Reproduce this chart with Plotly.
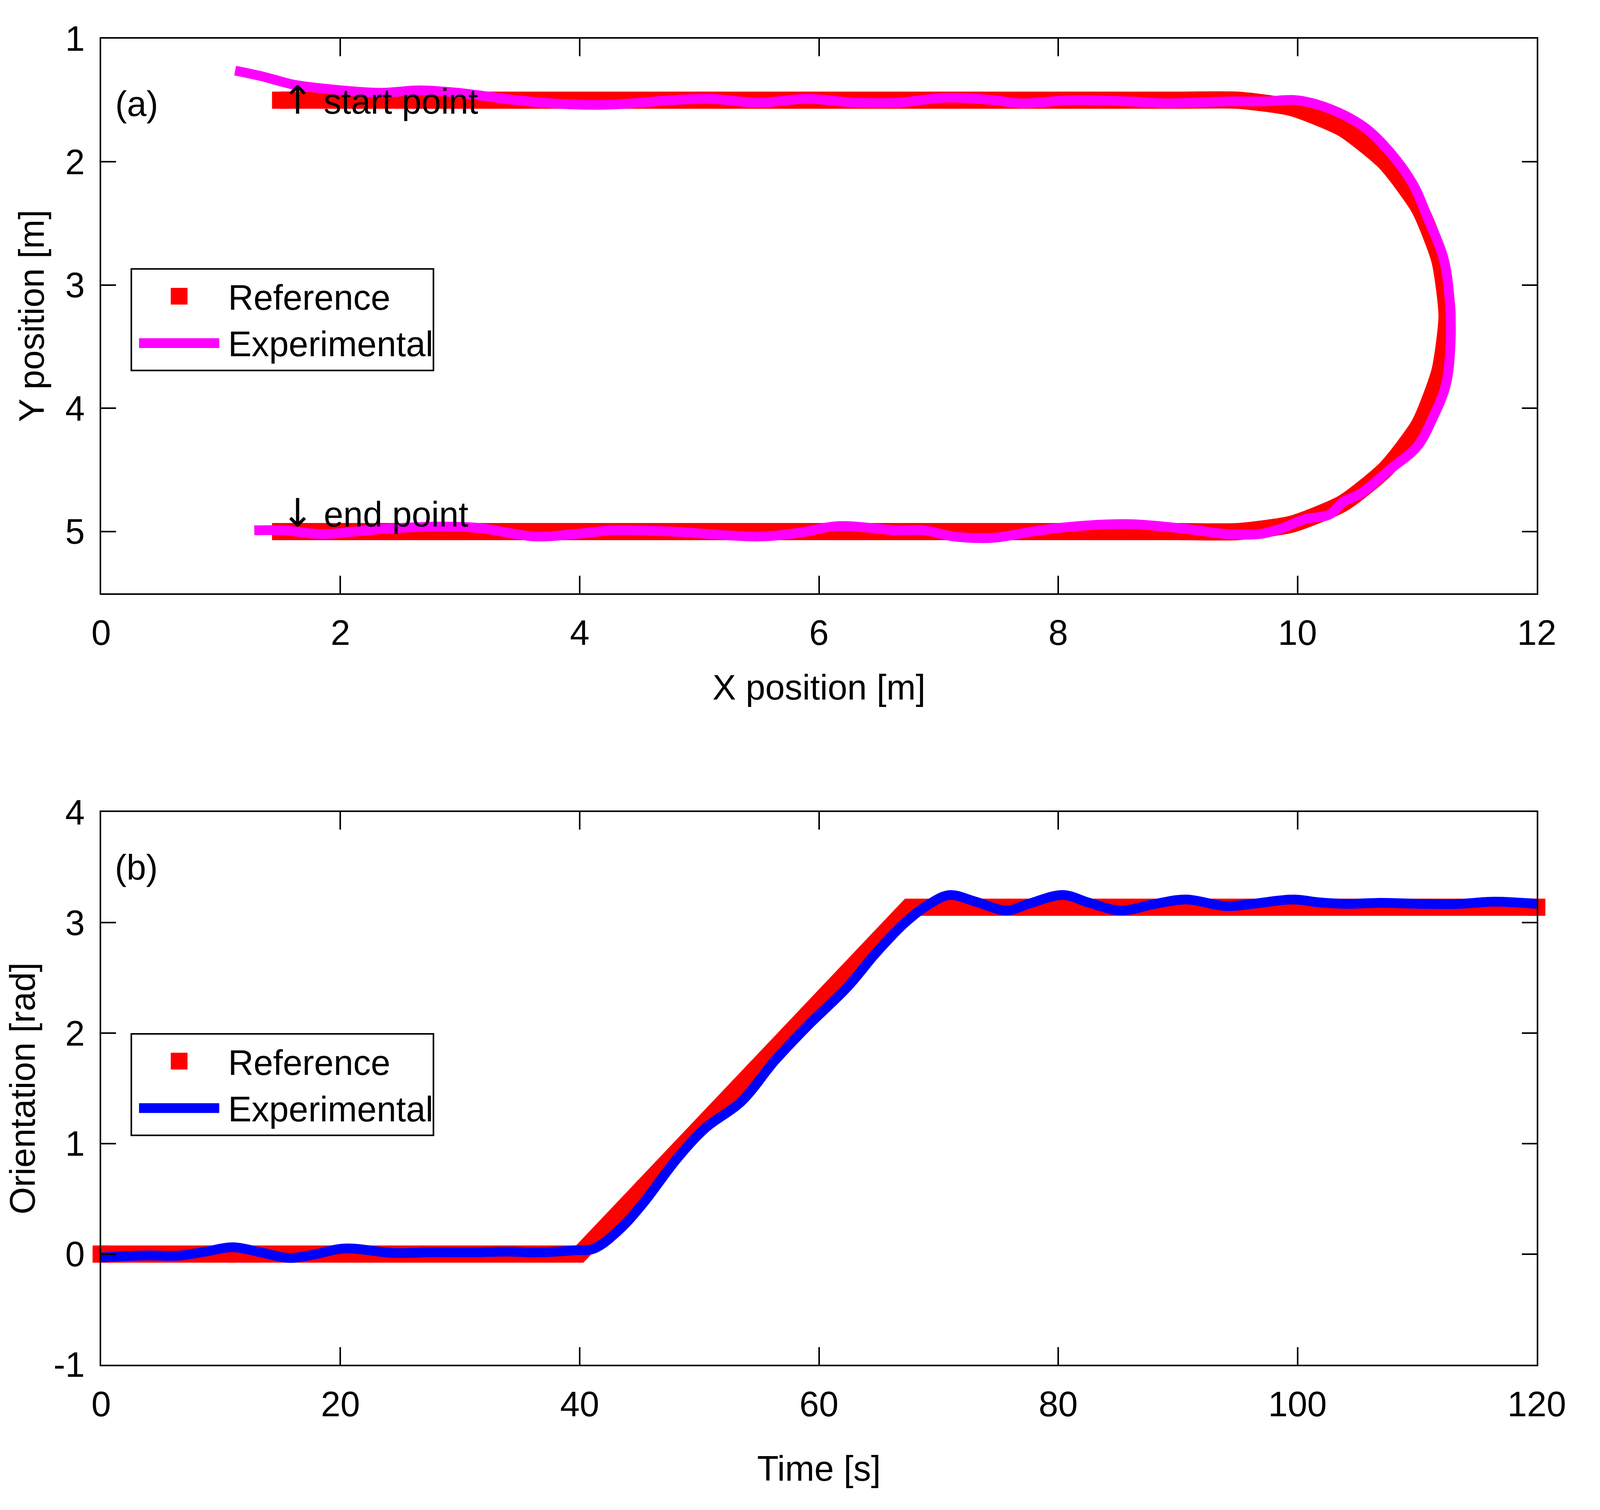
import plotly.graph_objects as go

# the browser window is 4096 px wide, so the figure is laid out in fractions of the
# original 4844x3866 picture and drawn to fill the window
REF_W, REF_H = 4844, 3866
W, H = 4080, 3850
FONT = "Arial, Liberation Sans, sans-serif"
FS = 90

# (a) trajectory in the plane
ref_x = [1.5, 9.0, 9.5, 9.95, 10.38, 10.74, 11.02, 11.19, 11.25, 11.19, 11.02, 10.74,
         10.38, 9.95, 9.5, 9.0, 1.5]
ref_y = [1.5, 1.5, 1.5, 1.56, 1.73, 2.01, 2.38, 2.80, 3.25, 3.70, 4.13, 4.49,
         4.77, 4.94, 5.0, 5.0, 5.0]

exp_x = [1.12, 1.36, 1.59, 1.85, 2.33, 2.66, 2.98, 3.47, 3.96, 4.28, 4.77, 5.10, 5.49,
         5.90, 6.32, 6.65, 7.07, 7.46, 7.69, 8.11, 8.60, 8.92, 9.41, 9.73, 9.99, 10.27,
         10.56, 10.78, 10.97, 11.09, 11.22, 11.27, 11.28, 11.24, 11.13, 11.00, 10.78,
         10.53, 10.38, 10.27, 10.06, 9.85, 9.68, 9.41, 9.08, 8.60, 8.11, 7.78, 7.46,
         7.13, 6.88, 6.65, 6.16, 5.83, 5.49, 4.77, 4.28, 3.96, 3.63, 3.15, 2.82, 2.33,
         1.85, 1.52, 1.28]
exp_y = [1.26, 1.31, 1.37, 1.405, 1.44, 1.42, 1.44, 1.50, 1.535, 1.535, 1.50, 1.49, 1.52,
         1.49, 1.52, 1.52, 1.48, 1.50, 1.525, 1.50, 1.51, 1.525, 1.51, 1.51, 1.50, 1.57,
         1.72, 1.93, 2.19, 2.46, 2.78, 3.10, 3.46, 3.81, 4.08, 4.31, 4.49,
         4.69, 4.76, 4.86, 4.90, 4.98, 5.02, 5.02, 4.98, 4.94, 4.96, 5.00, 5.05,
         5.04, 4.99, 4.99, 4.956, 5.01, 5.04, 5.00, 4.99, 5.02, 5.04, 4.97, 4.96, 4.98,
         5.02, 4.99, 4.99]

# (b) orientation over time
ref_t = [0, 40, 67.5, 120]
ref_theta = [0, 0, 3.14, 3.14]

exp_t = [0, 4.0, 6.4, 8.7, 11.0, 13.3, 15.7, 17.7, 20.3, 24.4, 27.9, 30.8, 34.0, 36.6,
         39.5, 41.2, 43.3, 45.3, 48.1, 50.5, 53.5, 56.3, 59.0, 62.4, 64.8, 67.2, 69.1,
         70.9, 73.1, 75.7, 77.5, 80.4, 82.6, 85.2, 88.1, 90.7, 94.0, 96.2, 99.7, 101.7,
         104.3, 106.9, 110.2, 113.5, 116.4, 120]
exp_theta = [-0.03, -0.012, -0.015, 0.022, 0.062, 0.017, -0.035, -0.006, 0.051, 0.011,
             0.017, 0.015, 0.022, 0.015, 0.034, 0.05, 0.22, 0.46, 0.86, 1.14, 1.38, 1.75,
             2.06, 2.42, 2.73, 3.0, 3.16, 3.25, 3.19, 3.11, 3.17, 3.25, 3.18, 3.11, 3.17,
             3.21, 3.15, 3.17, 3.21, 3.185, 3.17, 3.18, 3.17, 3.17, 3.19, 3.17]

RED = "#ff0000"
MAGENTA = "#ff00ff"
BLUE = "#0000ff"
BAND = 44      # width of the red reference band
EXP_LW = 25


def px(x):
    return x / REF_W


def py(y):
    return 1 - y / REF_H


fig = go.Figure()

# panel (a)
fig.add_trace(go.Scatter(x=ref_x, y=ref_y, mode="lines",
                         line=dict(color=RED, width=BAND, shape="spline", smoothing=0.6),
                         xaxis="x", yaxis="y"))
fig.add_trace(go.Scatter(x=[ref_x[0], ref_x[-1]], y=[ref_y[0], ref_y[-1]], mode="markers",
                         marker=dict(symbol="square", size=BAND, color=RED), cliponaxis=False,
                         xaxis="x", yaxis="y"))
fig.add_trace(go.Scatter(x=exp_x, y=exp_y, mode="lines",
                         line=dict(color=MAGENTA, width=EXP_LW, shape="spline"),
                         xaxis="x", yaxis="y"))

# panel (b)
fig.add_trace(go.Scatter(x=ref_t, y=ref_theta, mode="lines", line=dict(color=RED, width=BAND),
                         xaxis="x2", yaxis="y2"))
fig.add_trace(go.Scatter(x=[ref_t[0], ref_t[-1]], y=[ref_theta[0], ref_theta[-1]], mode="markers",
                         marker=dict(symbol="square", size=BAND, color=RED), cliponaxis=False,
                         xaxis="x2", yaxis="y2"))
fig.add_trace(go.Scatter(x=exp_t, y=exp_theta, mode="lines",
                         line=dict(color=BLUE, width=EXP_LW, shape="spline"),
                         xaxis="x2", yaxis="y2"))

common = dict(showline=True, linecolor="black", linewidth=4, mirror="ticks",
              ticks="inside", tickwidth=4, tickcolor="black",
              showgrid=False, zeroline=False, ticklabelstandoff=20,
              tickfont=dict(family=FONT, size=FS, color="black"),
              title_font=dict(family=FONT, size=FS, color="black"))
xstyle = dict(common, ticklen=45)
ystyle = dict(common, ticklen=38)

fig.update_layout(
    width=W, height=H,
    paper_bgcolor="white", plot_bgcolor="white",
    margin=dict(l=0, r=0, t=0, b=0),
    showlegend=False,
    xaxis=dict(domain=[px(275), px(4748)], range=[0, 12], tickvals=[0, 2, 4, 6, 8, 10, 12],
               anchor="y", title=dict(text="X position [m]", standoff=60), **xstyle),
    yaxis=dict(domain=[py(1507), py(43)], range=[5.5, 1], tickvals=[1, 2, 3, 4, 5],
               anchor="x", title=dict(text="Y position [m]", standoff=25), **ystyle),
    xaxis2=dict(domain=[px(275), px(4748)], range=[0, 120], tickvals=[0, 20, 40, 60, 80, 100, 120],
                anchor="y2", title=dict(text="Time [s]", standoff=85), **xstyle),
    yaxis2=dict(domain=[py(3543), py(2085)], range=[-1, 4], tickvals=[-1, 0, 1, 2, 3, 4],
                ticktext=["-1", "0", "1", "2", "3", "4"],
                anchor="x2", title=dict(text="Orientation [rad]", standoff=25), **ystyle),
)

txt = dict(family=FONT, size=FS, color="black")
arrow_font = "<span style='font-family:DejaVu Sans; font-size:100px'>%s</span>"
fig.add_annotation(x=0.11, y=1.53, xref="x", yref="y", text="(a)", showarrow=False,
                   xanchor="left", yanchor="middle", font=txt)
fig.add_annotation(x=1.5, y=1.5, xref="x", yref="y", text=arrow_font % "\u2191" + " start point",
                   showarrow=False, xanchor="left", yanchor="middle", font=txt)
fig.add_annotation(x=1.5, y=4.85, xref="x", yref="y", text=arrow_font % "\u2193" + " end point",
                   showarrow=False, xanchor="left", yanchor="middle", font=txt)
fig.add_annotation(x=1.07, y=3.5, xref="x2", yref="y2", text="(b)", showarrow=False,
                   xanchor="left", yanchor="middle", font=txt)


def add_box_legend(top, exp_color):
    # legend drawn by hand so the sample line can be as long as in the original
    fig.add_shape(type="rect", xref="paper", yref="paper",
                  x0=px(369), x1=0.2705, y0=py(top + 268), y1=py(top),
                  line=dict(color="black", width=4), fillcolor="white", layer="above")
    half_w, half_h = 22 / W, 22 / H
    cx, cy = px(518), py(top + 72)
    fig.add_shape(type="rect", xref="paper", yref="paper",
                  x0=cx - half_w, x1=cx + half_w, y0=cy - half_h, y1=cy + half_h,
                  line=dict(width=0), fillcolor=RED, layer="above")
    fig.add_shape(type="line", xref="paper", yref="paper",
                  x0=px(393), x1=px(643), y0=py(top + 196), y1=py(top + 196),
                  line=dict(color=exp_color, width=EXP_LW), layer="above")
    fig.add_annotation(x=px(668), y=py(top + 76), xref="paper", yref="paper", text="Reference",
                       showarrow=False, xanchor="left", yanchor="middle", font=txt)
    fig.add_annotation(x=px(668), y=py(top + 199), xref="paper", yref="paper", text="Experimental",
                       showarrow=False, xanchor="left", yanchor="middle", font=txt)


add_box_legend(651, MAGENTA)
add_box_legend(2670, BLUE)

fig.write_html("out.html")
